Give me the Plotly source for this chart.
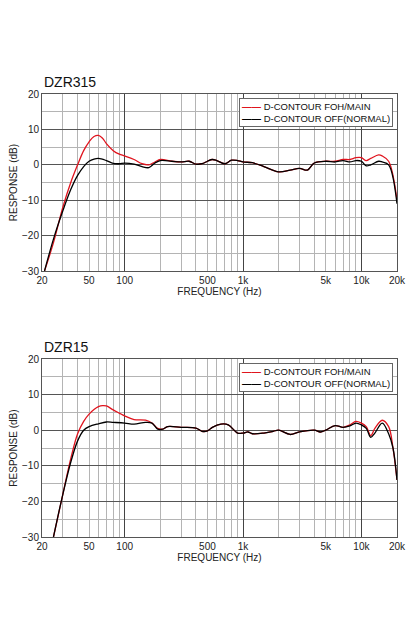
import plotly.graph_objects as go

# DZR315
f1_red = [21,25,30,35,40,45,50,55,60,65,70,80,90,100,120,140,160,180,200,250,300,350,400,450,500,550,600,700,800,900,1000,1200,1500,2000,2500,3000,3500,4000,5000,6000,7000,8000,9000,10000,11000,12000,14000,15000,17000,20000]
db1_red = [-30,-22,-12,-5,0,4,6.5,8,8.3,7.5,6,4,3,2.5,1.5,0.3,0,0.8,1.5,1,0.8,1,0.2,0.3,1,1.5,1.2,0.3,1.3,1.2,0.8,0.6,-0.5,-2,-1.5,-1,-1.5,0.5,1,1,1.5,1.5,2,2,1.2,1.8,2.8,2.5,1,-10]
f1_blk = [21,25,30,35,40,45,50,55,60,70,80,90,100,120,140,160,180,200,250,300,350,400,450,500,550,600,700,800,900,1000,1200,1500,2000,2500,3000,3500,4000,5000,6000,7000,8000,9000,10000,11000,12000,14000,15000,17000,20000]
db1_blk = [-30,-21,-13,-7,-3,-0.5,1,1.6,1.8,1.2,0.4,0.3,0.5,0.2,-0.5,-0.8,0.5,1.2,1,0.8,1,0.2,0.3,1,1.5,1.2,0.3,1.3,1.2,0.8,0.6,-0.5,-2,-1.5,-1,-1.5,0.5,1,0.8,1.2,0.8,1.2,1,-0.3,0,1,0.8,0,-11]
# DZR15
f2_red = [25,30,35,40,45,50,55,60,65,70,80,90,100,120,150,170,190,210,230,300,400,450,500,550,650,750,900,1000,1100,1200,1500,1800,2000,2500,3000,4000,4500,5000,6000,7000,8000,9000,10000,11000,12000,13000,15000,17000,18500,20000]
db2_red = [-30,-18,-8,-1,2.5,4.5,5.8,6.6,6.9,6.8,5.7,4.8,4,3,2.8,2,0.5,0.3,1,0.8,0.6,-0.3,-0.2,0.8,1.7,1.5,-0.8,-0.8,-0.5,-1,-0.8,-0.3,0,-1.2,-0.5,0,-0.5,0,1.3,0.8,1.5,2.5,2,1,-1.5,0.5,2.8,1,-5,-14]
f2_blk = [25,30,35,40,45,50,60,70,80,100,120,150,170,190,210,230,300,400,450,500,550,650,750,900,1000,1100,1200,1500,1800,2000,2500,3000,4000,4500,5000,6000,7000,8000,9000,10000,11000,12000,13000,15000,17000,18500,20000]
db2_blk = [-30,-18,-9,-3,0,1,1.8,2.3,2.2,2,1.7,2.2,2,0.3,0.3,1,0.8,0.6,-0.3,-0.2,0.8,1.7,1.5,-0.8,-0.8,-0.5,-1,-0.8,-0.3,0,-1.2,-0.5,0,-0.5,0,1.3,0.8,1.2,2,1.5,0.5,-2,-0.8,2,-1,-5,-14]

names = ["D-CONTOUR FOH/MAIN", "D-CONTOUR OFF(NORMAL)"]
colors = ["#e0141e", "#000000"]
titles = ["DZR315", "DZR15"]
grid_f = sorted(set([20,30,40,50,60,70,80,90] + [v*100 for v in range(1,10)] + [v*1000 for v in range(1,10)] + [10000,20000]))
tick_f = [20, 50, 100, 500, 1000, 5000, 10000, 20000]
tick_t = ["20", "50", "100", "500", "1k", "5k", "10k", "20k"]
decades = [100, 1000, 10000]

fig = go.Figure()
F = "Liberation Sans, Arial, sans-serif"
XD = [34/420, 389/420]
domains = [(263/640, 86/640), (529/640, 351/640)]
sets = [(f1_red, db1_red, f1_blk, db1_blk), (f2_red, db2_red, f2_blk, db2_blk)]
for i, (fr, dr, fb, dbk) in enumerate(sets):
    xa = "x" if i == 0 else "x3"
    ya = "y" if i == 0 else "y3"
    fig.add_trace(go.Scatter(x=fr, y=dr, mode="lines", line=dict(color=colors[0], width=1.3, shape="spline"), name=names[0], xaxis=xa, yaxis=ya))
    fig.add_trace(go.Scatter(x=fb, y=dbk, mode="lines", line=dict(color=colors[1], width=1.3, shape="spline"), name=names[1], xaxis=xa, yaxis=ya))

legend_text = "<br>".join(f"<span style='color:{c}'><b>——</b></span> {n}" for c, n in zip(colors, names))

lay = {}
for i, (bot, top) in enumerate(domains):
    n = 1 if i == 0 else 3
    sx = "" if n == 1 else str(n)
    d = [1 - bot, 1 - top]
    lay[f"xaxis{sx}"] = dict(type="log", range=[1.30103, 4.30103], domain=XD, anchor=f"y{sx}", automargin=False,
        tickvals=tick_f, ticktext=tick_t, gridcolor="#b4b4b4", gridwidth=1, showline=True, linecolor="#555", mirror=True,
        ticks="", tickfont=dict(size=10, color="#222", family=F),
        title=dict(text="FREQUENCY (Hz)", font=dict(size=10, color="#222", family=F), standoff=2),
        minor=dict(tickvals=grid_f, showgrid=True, gridcolor="#b4b4b4", gridwidth=1))
    lay[f"yaxis{sx}"] = dict(range=[-30, 20], domain=d, anchor=f"x{sx}", tickvals=[-30,-20,-10,0,10,20], automargin=False,
        gridcolor="#555", gridwidth=1, showline=True, linecolor="#555", mirror=True, zeroline=False,
        ticks="", tickfont=dict(size=10, color="#222", family=F),
        title=dict(text="RESPONSE (dB)", font=dict(size=10, color="#222", family=F), standoff=4),
        minor=dict(dtick=5, showgrid=True, gridcolor="#b4b4b4", gridwidth=1))
    ox = "x2" if n == 1 else "x4"
    lay[f"xaxis{ox[1:]}"] = dict(type="log", range=[1.30103, 4.30103], domain=XD, anchor=f"y{sx}", automargin=False,
        overlaying=f"x{sx}", tickvals=decades, showticklabels=False, gridcolor="#444", gridwidth=1.2, ticks="")
    fig.add_annotation(text=titles[i], x=XD[0], xref="paper", y=d[1] + 0.003, yref="paper", xanchor="left", yanchor="bottom",
        showarrow=False, font=dict(size=14, color="#111", family=F))
    fig.add_annotation(text=legend_text, x=0.988, xref=f"x{sx} domain", y=0.975, yref=f"y{sx} domain",
        xanchor="right", yanchor="top", align="left", showarrow=False, bgcolor="white", bordercolor="#666",
        borderwidth=1, borderpad=2, font=dict(size=9.5, color="#111", family=F))

fig.add_trace(go.Scatter(x=[100], y=[None], xaxis="x2", yaxis="y", showlegend=False, hoverinfo="skip"))
fig.add_trace(go.Scatter(x=[100], y=[None], xaxis="x4", yaxis="y3", showlegend=False, hoverinfo="skip"))

fig.update_layout(**lay, width=420, height=640, margin=dict(l=0, r=0, t=0, b=0, autoexpand=False),
    plot_bgcolor="white", paper_bgcolor="white", showlegend=False)
fig.write_html("out.html")
